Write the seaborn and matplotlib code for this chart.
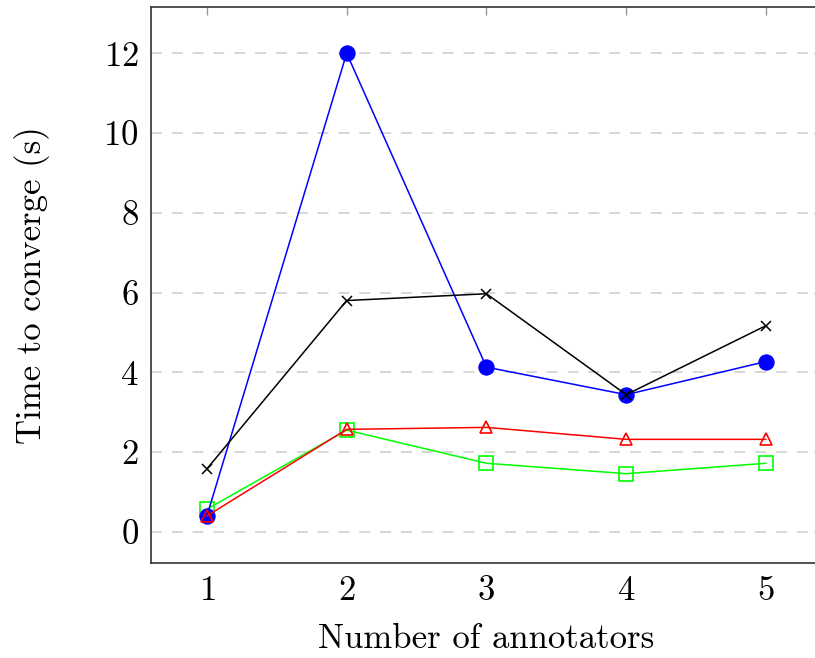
import pandas as pd
import seaborn as sns
import matplotlib.pyplot as plt

# Data
annotators = [1, 2, 3, 4, 5]
blue_vals = [0.40, 12.0, 4.13, 3.44, 4.27]
black_vals = [1.58, 5.80, 5.97, 3.44, 5.17]
red_vals = [0.40, 2.57, 2.62, 2.32, 2.32]
green_vals = [0.57, 2.55, 1.72, 1.46, 1.72]

sns.set_style("white")
plt.rcParams['font.family'] = ['cmr10', 'DejaVu Serif']
plt.rcParams['axes.formatter.use_mathtext'] = True
plt.rcParams['axes.unicode_minus'] = False

fig = plt.figure(figsize=(8.15, 6.58), dpi=100)
ax = fig.add_axes([0.1853, 0.1444, 0.8231, 0.845])

# draw order matters for overlapping markers at x=1 and x=4
sns.lineplot(x=annotators, y=green_vals, ax=ax, color='#00ff00', marker='s',
             markersize=9.5, markerfacecolor='none', markeredgecolor='#00ff00',
             markeredgewidth=1.2, linewidth=1.1)
sns.lineplot(x=annotators, y=blue_vals, ax=ax, color='#0000ff', marker='o',
             markersize=11, markeredgecolor='#0000ff', linewidth=1.1)
sns.lineplot(x=annotators, y=red_vals, ax=ax, color='#ff0000', marker='^',
             markersize=9, markerfacecolor='none', markeredgecolor='#ff0000',
             markeredgewidth=1.2, linewidth=1.1)
sns.lineplot(x=annotators, y=black_vals, ax=ax, color='black', marker='x',
             markersize=7.5, markeredgecolor='black', markeredgewidth=1.1,
             linewidth=1.1)

ax.set_xlim(0.6, 5.4)
ax.set_ylim(-0.78, 13.16)
ax.set_xticks(annotators)
ax.set_yticks([0, 2, 4, 6, 8, 10, 12])

ax.yaxis.grid(True, linestyle=(0, (6.5, 6)), color='#d0d0d0', linewidth=1.2)
ax.xaxis.grid(False)
ax.set_axisbelow(True)

for s in ax.spines.values():
    s.set_color('#333333')
    s.set_linewidth(1.2)

ax.tick_params(direction='in', length=6, width=1, color='#999999',
               top=True, right=True, labelsize=25, labelcolor='black', pad=9)

ax.set_xlabel('Number of annotators', fontsize=25, labelpad=12, color='black')
ax.set_ylabel('Time to converge (s)', fontsize=25, labelpad=38, color='black')

fig.savefig('out.png', dpi=100)
